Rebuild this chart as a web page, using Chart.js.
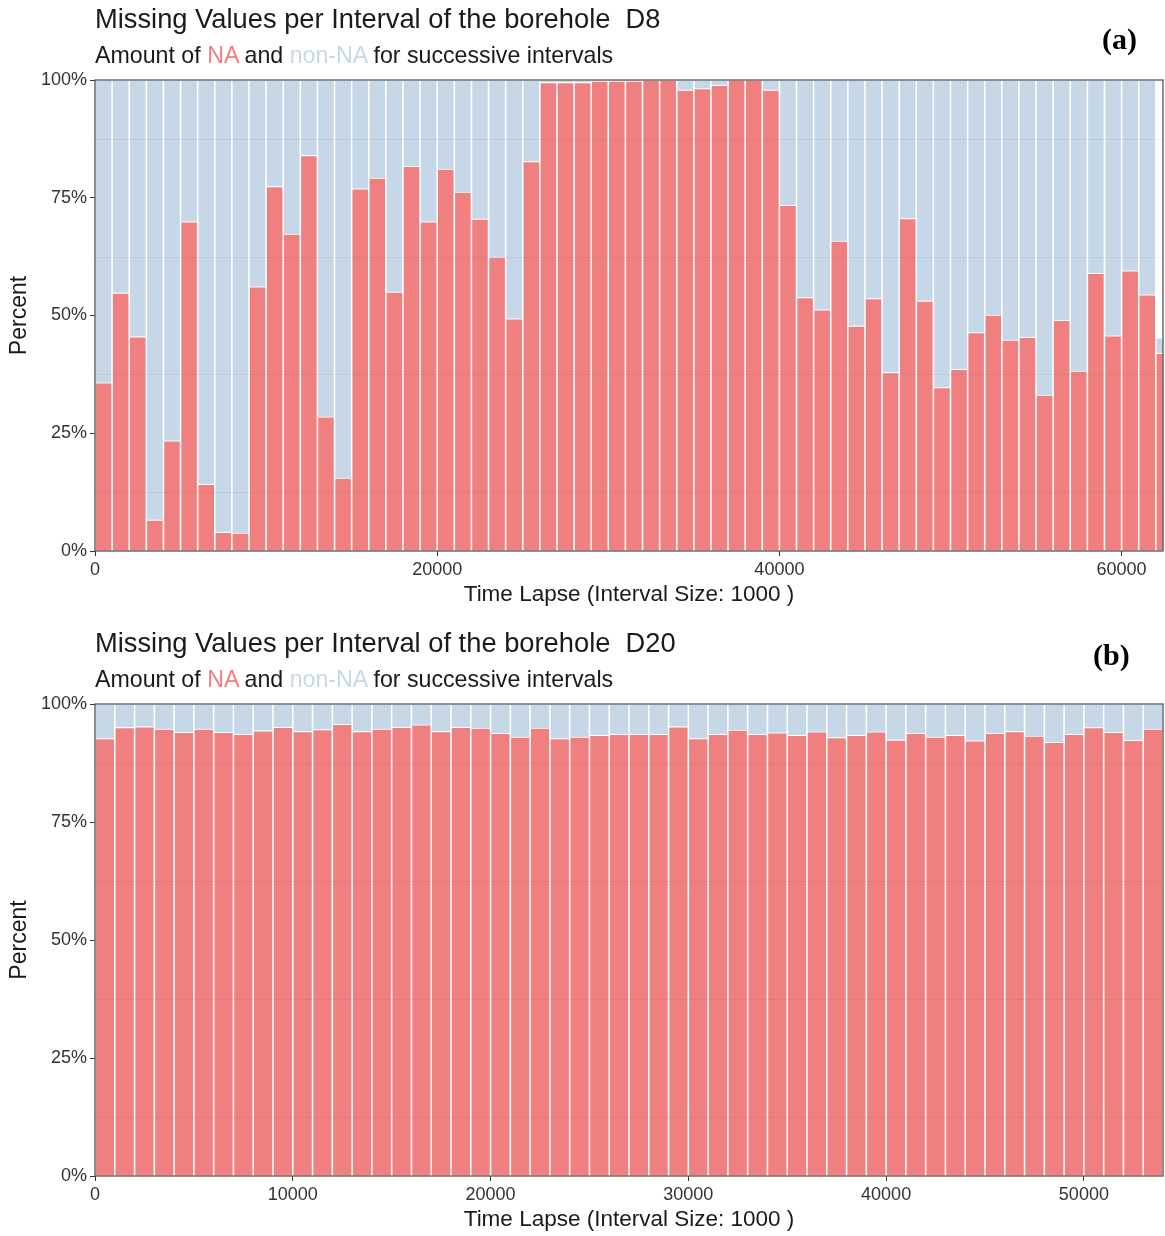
<!DOCTYPE html>
<html>
<head>
<meta charset="utf-8">
<title>Missing Values per Interval</title>
<script src="https://cdn.jsdelivr.net/npm/chart.js@4.4.1/dist/chart.umd.min.js"></script>
<style>
  html, body { margin: 0; padding: 0; background: #fff; width: 1165px; height: 1236px; overflow: hidden;
               font-family: "Liberation Sans", Arial, Helvetica, sans-serif; }
  .panel { position: absolute; left: 0; width: 1165px; height: 612px; }
  .panel canvas { position: absolute; left: 0; top: 0; }
  .title { position: absolute; left: 95px; top: 5px; font-size: 27.3px; line-height: 27px; color: #1a1a1a; white-space: nowrap; }
  .subtitle { position: absolute; left: 95px; top: 44px; font-size: 23.2px; line-height: 23px; color: #1a1a1a; white-space: nowrap; }
  .na { color: #F08080; }
  .nonna { color: #C6D8E8; }
  .tag { position: absolute; font-family: "Liberation Serif", "Times New Roman", serif; font-weight: bold;
         font-size: 30px; line-height: 30px; color: #000; }
</style>
</head>
<body>

<div class="panel" style="top:0px">
  <canvas id="chartD8" width="1165" height="612"></canvas>
  <div class="title">Missing Values per Interval of the borehole&nbsp; D8</div>
  <div class="subtitle">Amount of <span class="na">NA</span> and <span class="nonna">non-NA</span> for successive intervals</div>
  <div class="tag" style="left:1102px; top:24px">(a)</div>
</div>

<div class="panel" style="top:624px">
  <canvas id="chartD20" width="1165" height="612"></canvas>
  <div class="title">Missing Values per Interval of the borehole&nbsp; D20</div>
  <div class="subtitle">Amount of <span class="na">NA</span> and <span class="nonna">non-NA</span> for successive intervals</div>
  <div class="tag" style="left:1093px; top:16px">(b)</div>
</div>

<script>
// Interval width on the time axis
const intervalSize = 1000;

// Borehole D8: share of missing (NA) and present (non-NA) values per interval, in percent
const d8Missing = [
  35.7, 54.8, 45.5, 6.6, 23.4, 69.9, 14.2, 4.0, 3.8, 56.1,
  77.4, 67.3, 84.0, 28.5, 15.5, 76.9, 79.2, 55.0, 81.7, 69.9,
  81.1, 76.2, 70.5, 62.4, 49.3, 82.7, 99.5, 99.5, 99.5, 99.8,
  99.8, 99.8, 100, 100, 97.9, 98.2, 98.9, 100, 100, 97.9,
  73.4, 53.8, 51.2, 65.8, 47.8, 53.6, 37.9, 70.6, 53.1, 34.7,
  38.6, 46.4, 50.1, 44.8, 45.4, 33.1, 49.0, 38.2, 59.0, 45.7,
  59.5, 54.4, 42.0
];
const d8Present = [
  64.3, 45.2, 54.5, 93.4, 76.6, 30.1, 85.8, 96.0, 96.2, 43.9,
  22.6, 32.7, 16.0, 71.5, 84.5, 23.1, 20.8, 45.0, 18.3, 30.1,
  18.9, 23.8, 29.5, 37.6, 50.7, 17.3, 0.5, 0.5, 0.5, 0.2,
  0.2, 0.2, 0, 0, 2.1, 1.8, 1.1, 0, 0, 2.1,
  26.6, 46.2, 48.8, 34.2, 52.2, 46.4, 62.1, 29.4, 46.9, 65.3,
  61.4, 53.6, 49.9, 55.2, 54.6, 66.9, 51.0, 61.8, 41.0, 54.3,
  40.5, 45.6, 3.3
];
const d8XTicks = [0, 20000, 40000, 60000];
const d8XMax = 62420;

// Borehole D20
const d20Missing = [
  92.7, 95.05, 95.2, 94.7, 94.0, 94.7, 94.0, 93.6, 94.35, 95.1,
  94.2, 94.6, 95.7, 94.2, 94.7, 95.1, 95.6, 94.2, 95.1, 94.9,
  93.8, 93.0, 94.9, 92.7, 93.0, 93.4, 93.6, 93.6, 93.6, 95.2,
  92.7, 93.6, 94.5, 93.6, 93.9, 93.4, 94.1, 92.9, 93.4, 94.1,
  92.4, 93.8, 93.0, 93.4, 92.2, 93.8, 94.2, 93.2, 91.9, 93.6,
  95.0, 94.0, 92.3, 94.7
];
const d20Present = [
  7.3, 4.95, 4.8, 5.3, 6.0, 5.3, 6.0, 6.4, 5.65, 4.9,
  5.8, 5.4, 4.3, 5.8, 5.3, 4.9, 4.4, 5.8, 4.9, 5.1,
  6.2, 7.0, 5.1, 7.3, 7.0, 6.6, 6.4, 6.4, 6.4, 4.8,
  7.3, 6.4, 5.5, 6.4, 6.1, 6.6, 5.9, 7.1, 6.6, 5.9,
  7.6, 6.2, 7.0, 6.6, 7.8, 6.2, 5.8, 6.8, 8.1, 6.4,
  5.0, 6.0, 7.7, 5.3
];
const d20XTicks = [0, 10000, 20000, 30000, 40000, 50000];
const d20XMax = 54000;

const percentTicks = [0, 25, 50, 75, 100];
const faintLines = [12.5, 37.5, 62.5, 87.5];

const NA_COLOR = '#F08080';
const PRESENT_COLOR = '#C6D8E8';
const FONT = '"Liberation Sans", Arial, Helvetica, sans-serif';

Chart.defaults.font.family = FONT;

// Panel frame plus the faint reference lines that show through the bars
const panelFrame = {
  id: 'panelFrame',
  afterDatasetsDraw(chart) {
    const { ctx, chartArea: a, scales: { y } } = chart;
    ctx.save();
    ctx.strokeStyle = 'rgba(70, 85, 105, 0.09)';
    ctx.lineWidth = 1;
    faintLines.forEach(v => {
      const py = Math.round(y.getPixelForValue(v)) + 0.5;
      ctx.beginPath();
      ctx.moveTo(a.left, py);
      ctx.lineTo(a.right, py);
      ctx.stroke();
    });
    ctx.strokeStyle = '#555555';
    ctx.lineWidth = 1.3;
    ctx.strokeRect(a.left, a.top, a.right - a.left, a.bottom - a.top);
    ctx.restore();
  }
};

function toPoints(values) {
  return values.map((v, i) => ({ x: i * intervalSize + intervalSize / 2, y: v }));
}

function barSet(label, values, color) {
  return {
    label,
    data: toPoints(values),
    backgroundColor: color,
    borderColor: '#ffffff',
    borderWidth: 1.1,
    borderSkipped: 'start',
    barPercentage: 1,
    categoryPercentage: 1,
    clip: 0
  };
}

function buildChart(canvasId, missing, present, xMax, xTicks, axisHeight, xTitlePad) {
  return new Chart(document.getElementById(canvasId), {
    type: 'bar',
    data: {
      datasets: [
        barSet('NA', missing, NA_COLOR),
        barSet('non-NA', present, PRESENT_COLOR)
      ]
    },
    options: {
      responsive: false,
      animation: false,
      devicePixelRatio: 1,
      layout: { padding: { top: 80, right: 2, left: 0, bottom: 0 } },
      plugins: { legend: { display: false }, tooltip: { enabled: false } },
      scales: {
        x: {
          type: 'linear',
          min: 0,
          max: xMax,
          stacked: true,
          offset: false,
          afterBuildTicks: s => { s.ticks = xTicks.map(v => ({ value: v })); },
          afterFit: s => { s.height = axisHeight; },
          ticks: {
            callback: v => String(v),
            font: { size: 18 },
            color: '#333333',
            padding: 3,
            maxRotation: 0,
            autoSkip: false,
            includeBounds: false
          },
          grid: { offset: false, drawOnChartArea: false, drawTicks: true, tickLength: 5, color: '#333333' },
          border: { display: false },
          title: {
            display: true,
            text: 'Time Lapse (Interval Size: 1000 )',
            font: { size: 22.5 },
            color: '#1a1a1a',
            padding: { top: 0, bottom: xTitlePad }
          }
        },
        y: {
          min: 0,
          max: 100,
          stacked: true,
          afterBuildTicks: s => { s.ticks = percentTicks.map(v => ({ value: v })); },
          afterFit: s => { s.width = 95; },
          ticks: {
            callback: v => v + '%',
            font: { size: 18 },
            color: '#333333',
            padding: 3
          },
          grid: { offset: false, drawOnChartArea: false, drawTicks: true, tickLength: 5, color: '#333333' },
          border: { display: false },
          title: {
            display: true,
            text: 'Percent',
            font: { size: 23 },
            color: '#1a1a1a',
            padding: { top: 6, bottom: 0 }
          }
        }
      }
    },
    plugins: [panelFrame]
  });
}

buildChart('chartD8', d8Missing, d8Present, d8XMax, d8XTicks, 61, 3.5);
buildChart('chartD20', d20Missing, d20Present, d20XMax, d20XTicks, 60, 2.5);
</script>
</body>
</html>
